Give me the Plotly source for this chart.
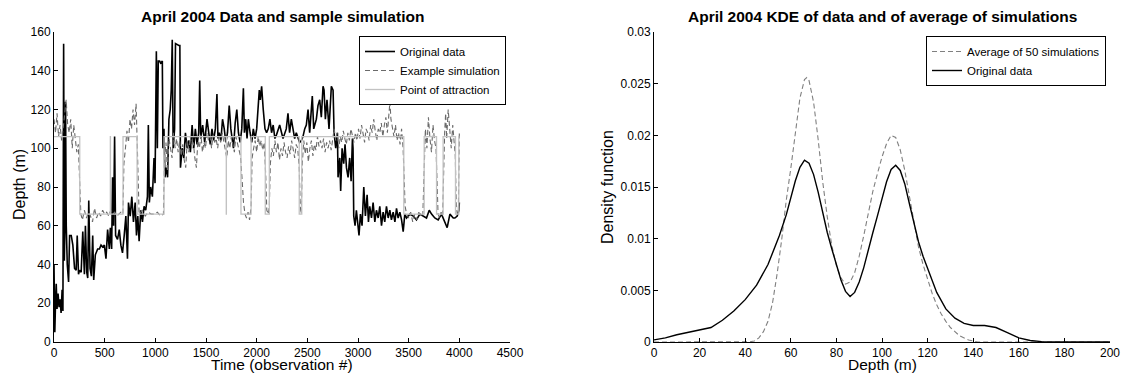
import plotly.graph_objects as go

# ---------------- Left panel: time series ----------------
orig_t = [0, 8, 15, 22, 30, 40, 50, 60, 70, 80, 88, 95, 102, 108, 114, 121, 131, 144, 154, 170,
          186, 203, 219, 229, 242, 252, 268, 284, 300, 310, 323, 333, 343, 356, 369, 382, 392, 408, 431, 448,
          464, 480, 497, 513, 529, 546, 556, 569, 578, 588, 598, 608, 627, 644, 660, 676, 693, 709, 725, 735,
          752, 768, 784, 801, 814, 827, 840, 856, 873, 889, 905, 922, 931, 941, 954, 971, 987, 997, 1010, 1020,
          1029, 1042, 1052, 1069, 1075, 1085, 1095, 1108, 1121, 1134, 1147, 1157, 1167, 1176, 1190, 1199, 1232, 1242, 1248, 1265,
          1281, 1297, 1314, 1330, 1346, 1363, 1379, 1395, 1412, 1428, 1438, 1448, 1467, 1487, 1510, 1526, 1542, 1559, 1575, 1592,
          1608, 1618, 1631, 1647, 1663, 1680, 1696, 1712, 1729, 1745, 1755, 1771, 1788, 1804, 1820, 1837, 1853, 1869, 1879, 1892,
          1905, 1918, 1935, 1951, 1967, 1984, 2000, 2016, 2026, 2036, 2049, 2065, 2082, 2098, 2114, 2131, 2147, 2163, 2180, 2196,
          2227, 2260, 2292, 2309, 2325, 2342, 2358, 2375, 2391, 2424, 2441, 2457, 2474, 2490, 2507, 2523, 2549, 2563, 2589, 2605,
          2622, 2638, 2655, 2665, 2678, 2694, 2714, 2737, 2754, 2764, 2780, 2797, 2803, 2820, 2829, 2843, 2859, 2872, 2886, 2902,
          2918, 2932, 2945, 2951, 2958, 2971, 2984, 3000, 3010, 3024, 3040, 3057, 3073, 3090, 3103, 3116, 3133, 3149, 3166, 3182,
          3199, 3215, 3232, 3248, 3264, 3281, 3298, 3314, 3330, 3347, 3364, 3380, 3396, 3413, 3430, 3446, 3462, 3479, 3512, 3545,
          3577, 3610, 3643, 3676, 3703, 3726, 3758, 3791, 3824, 3857, 3880, 3907, 3940, 3956, 3979, 3996, 4000]
orig_v = [40, 5, 20, 30, 17, 25, 18, 22, 15, 27, 16, 154, 42, 60, 124, 60, 40, 31, 55, 55,
          50, 38, 37, 55, 35, 37, 36, 57, 35, 60, 36, 33, 73, 38, 34, 55, 32, 45, 48, 48,
          50, 49, 50, 43, 58, 48, 59, 48, 85, 60, 106, 55, 53, 58, 50, 46, 55, 65, 43, 72,
          65, 75, 62, 72, 55, 65, 52, 68, 62, 70, 68, 75, 112, 72, 80, 75, 95, 82, 150, 100,
          145, 145, 144, 145, 100, 110, 85, 90, 85, 115, 120, 130, 156, 100, 110, 154, 153, 153, 90, 100,
          95, 108, 100, 104, 98, 112, 100, 110, 102, 108, 135, 105, 112, 103, 115, 108, 102, 110, 104, 110,
          128, 105, 108, 104, 115, 110, 103, 108, 122, 110, 105, 100, 113, 120, 108, 103, 110, 131, 108, 115,
          105, 115, 108, 103, 110, 105, 110, 125, 130, 125, 132, 120, 110, 108, 110, 115, 108, 112, 105, 107,
          112, 105, 110, 118, 108, 115, 110, 105, 108, 103, 104, 106, 110, 112, 120, 108, 127, 110, 115, 122,
          125, 116, 132, 130, 115, 125, 110, 132, 130, 108, 100, 108, 85, 95, 78, 100, 92, 102, 90, 85,
          95, 83, 105, 100, 65, 60, 68, 57, 55, 66, 60, 80, 65, 76, 62, 70, 64, 72, 62, 68,
          64, 70, 60, 67, 62, 70, 64, 68, 63, 67, 62, 69, 64, 67, 63, 57, 66, 64, 66, 65,
          63, 66, 65, 64, 68, 66, 64, 63, 66, 62, 59, 66, 64, 64, 65, 68, 72]

sim_t = [0, 15, 30, 45, 60, 75, 90, 105, 120, 135, 150, 165, 180, 195, 210, 225, 240, 255, 265, 280,
         300, 320, 340, 360, 380, 400, 420, 440, 460, 480, 500, 520, 540, 560, 580, 600, 620, 640, 660, 680,
         690, 705, 720, 735, 750, 765, 780, 795, 810, 820, 830, 840, 870, 900, 930, 960, 990, 1020, 1050, 1080,
         1090, 1105, 1120, 1135, 1150, 1165, 1180, 1195, 1210, 1225, 1240, 1255, 1270, 1285, 1300, 1315, 1330, 1345, 1360, 1375,
         1390, 1405, 1420, 1435, 1450, 1465, 1480, 1495, 1510, 1525, 1540, 1555, 1570, 1585, 1600, 1615, 1630, 1645, 1660, 1675,
         1690, 1705, 1720, 1735, 1750, 1765, 1780, 1795, 1810, 1825, 1840, 1855, 1870, 1885, 1900, 1915, 1930, 1945, 1955, 1970,
         1985, 2000, 2015, 2030, 2045, 2060, 2075, 2090, 2100, 2115, 2125, 2135, 2150, 2165, 2180, 2195, 2210, 2225, 2240, 2255,
         2270, 2285, 2300, 2315, 2330, 2345, 2360, 2375, 2390, 2405, 2420, 2430, 2440, 2450, 2465, 2480, 2495, 2510, 2525, 2540,
         2555, 2570, 2585, 2600, 2615, 2630, 2645, 2660, 2675, 2690, 2705, 2720, 2735, 2750, 2765, 2780, 2795, 2810, 2825, 2840,
         2855, 2870, 2885, 2900, 2915, 2930, 2945, 2960, 2975, 2990, 3005, 3020, 3035, 3050, 3065, 3080, 3095, 3110, 3125, 3140,
         3155, 3170, 3185, 3200, 3215, 3230, 3245, 3260, 3275, 3290, 3305, 3315, 3325, 3340, 3355, 3370, 3385, 3400, 3415, 3430,
         3445, 3455, 3465, 3480, 3500, 3520, 3540, 3560, 3580, 3600, 3620, 3640, 3655, 3665, 3680, 3695, 3710, 3725, 3740, 3755,
         3770, 3780, 3790, 3805, 3820, 3835, 3845, 3855, 3865, 3875, 3890, 3905, 3920, 3935, 3950, 3960, 3970, 3980, 3990, 4000]
sim_v = [115, 108, 118, 106, 112, 104, 110, 118, 125, 112, 108, 115, 100, 112, 104, 98, 102, 80, 66, 63,
         68, 64, 67, 65, 62, 69, 64, 67, 65, 68, 66, 67, 65, 68, 66, 67, 65, 66, 67, 66,
         92, 100, 109, 103, 115, 110, 120, 112, 123, 105, 75, 66, 68, 65, 67, 66, 66, 67, 65, 66,
         95, 103, 88, 105, 100, 95, 108, 100, 105, 98, 104, 96, 102, 94, 90, 104, 98, 106, 100, 103,
         95, 90, 104, 100, 107, 98, 103, 100, 108, 104, 106, 100, 107, 103, 105, 100, 106, 103, 108, 104,
         100, 95, 104, 100, 106, 102, 98, 106, 103, 100, 96, 85, 72, 66, 64, 67, 63, 70, 95, 100,
         104, 98, 106, 101, 104, 99, 103, 85, 68, 66, 70, 92, 100, 96, 104, 98, 103, 94, 100, 96,
         103, 98, 95, 101, 97, 104, 99, 95, 102, 100, 90, 70, 66, 92, 104, 97, 103, 93, 100, 104,
         96, 102, 99, 106, 101, 104, 100, 105, 98, 103, 100, 104, 99, 106, 110, 104, 108, 100, 106, 103,
         109, 105, 102, 108, 104, 110, 106, 103, 108, 104, 110, 105, 112, 107, 103, 110, 108, 104, 112, 108,
         115, 109, 104, 110, 108, 113, 106, 112, 116, 108, 118, 124, 115, 110, 106, 112, 104, 108, 102, 110,
         100, 85, 70, 66, 64, 67, 62, 66, 63, 67, 65, 66, 95, 110, 100, 116, 105, 98, 112, 104,
         100, 80, 66, 64, 67, 65, 95, 108, 118, 105, 120, 110, 100, 112, 104, 96, 70, 66, 67, 108]

attr_t = [0, 254, 556, 557, 681, 820, 1086, 1700, 1701, 1845, 1945, 2085, 2125, 2420, 2445, 3452,
          3653, 3775, 3840, 3962, 3995, 4000]
attr_v = [106, 66, 106, 66, 106, 66, 106, 66, 106, 66, 106, 66, 106, 66, 106, 66,
          106, 66, 106, 66, 106, 106]

# ---------------- Right panel: KDE ----------------
kde_orig_x = [0, 5, 10, 15, 20, 25, 30, 35, 40, 45, 50, 55, 58, 60, 62, 64, 66, 68, 70, 72,
              74, 76, 78, 80, 82, 84, 86, 88, 90, 92, 94, 96, 98, 100, 102, 104, 106, 108, 110, 112,
              114, 116, 118, 120, 124, 128, 132, 136, 140, 145, 150, 155, 160, 165, 170, 180, 200]
kde_orig_y = [0.0002, 0.0004, 0.0007, 0.00095, 0.0012, 0.0014, 0.0021, 0.003, 0.0041, 0.0055,
              0.0075, 0.0103, 0.0123, 0.0139, 0.0156, 0.0169, 0.0176, 0.0173, 0.0162, 0.0145,
              0.0125, 0.0106, 0.009, 0.0075, 0.006, 0.0049, 0.0044, 0.0048, 0.0058, 0.0072,
              0.009, 0.0106, 0.0122, 0.0139, 0.0155, 0.0167, 0.0171, 0.0166, 0.0153, 0.0134,
              0.0114, 0.0097, 0.0083, 0.0071, 0.0048, 0.0032, 0.0023, 0.0018, 0.0016, 0.0016,
              0.0014, 0.0009, 0.0004, 0.00015, 0.00004, 0.0, 0.0]

kde_avg_x = [0, 10, 20, 30, 40, 42, 44, 46, 48, 50, 52, 54, 56, 58, 60, 62, 64, 66, 67, 68,
             70, 72, 74, 76, 78, 80, 82, 84, 86, 88, 90, 92, 94, 96, 98, 100, 102, 104, 106, 108,
             110, 112, 114, 116, 118, 120, 122, 124, 126, 128, 130, 134, 138, 142, 160, 180, 200]
kde_avg_y = [0.0, 0.0, 0.0, 0.0, 0.0, 0.00002, 0.0001, 0.0004, 0.001, 0.002, 0.0038, 0.0066,
             0.0099, 0.0137, 0.0168, 0.0205, 0.0236, 0.0254, 0.0256, 0.0253, 0.0232, 0.0196,
             0.0155, 0.0121, 0.0093, 0.0074, 0.0062, 0.0056, 0.0058, 0.0067, 0.0083, 0.0103,
             0.0125, 0.0146, 0.0163, 0.0179, 0.0192, 0.02, 0.0198, 0.0186, 0.0166, 0.0141,
             0.0115, 0.0092, 0.0075, 0.0061, 0.0047, 0.0036, 0.0027, 0.002, 0.0014, 0.0006,
             0.0002, 0.0, 0.0, 0.0, 0.0]

left_title = "April 2004 Data and sample simulation"
right_title = "April 2004 KDE of data and of average of simulations"
y_ticks_right = [0, 0.005, 0.01, 0.015, 0.02, 0.025, 0.03]
y_ticktext_right = ["0", "0.005", "0.01", "0.015", "0.02", "0.025", "0.03"]

assert len(orig_t) == len(orig_v)
assert len(sim_t) == len(sim_v)
assert len(attr_t) == len(attr_v)
assert len(kde_orig_x) == len(kde_orig_y)
assert len(kde_avg_x) == len(kde_avg_y)

FONT = "Liberation Sans, Arial, Helvetica, sans-serif"
W, H = 1125, 380

fig = go.Figure()
fig.add_trace(go.Scatter(x=orig_t, y=orig_v, mode="lines", name="Original data",
                         line=dict(color="black", width=1.6), xaxis="x", yaxis="y", legend="legend"))
fig.add_trace(go.Scatter(x=sim_t, y=sim_v, mode="lines", name="Example simulation",
                         line=dict(color="#6a6a6a", width=1.1, dash="5px,3px"), xaxis="x", yaxis="y",
                         legend="legend"))
fig.add_trace(go.Scatter(x=attr_t, y=attr_v, mode="lines", name="Point of attraction",
                         line=dict(color="#c2c2c2", width=1.3, shape="hv"), xaxis="x", yaxis="y",
                         legend="legend"))
fig.add_trace(go.Scatter(x=kde_avg_x, y=kde_avg_y, mode="lines", name="Average of 50 simulations",
                         line=dict(color="#808080", width=1.1, dash="5px,3px"), xaxis="x2", yaxis="y2",
                         legend="legend2"))
fig.add_trace(go.Scatter(x=kde_orig_x, y=kde_orig_y, mode="lines", name="Original data",
                         line=dict(color="black", width=1.4), xaxis="x2", yaxis="y2", legend="legend2"))


def px_x(p):
    return p / W


def px_y(p):
    return 1 - p / H


axis_common = dict(showline=True, linecolor="black", linewidth=1, ticks="inside", ticklen=4,
                   tickcolor="black", showgrid=False, zeroline=False, mirror=False,
                   tickfont=dict(family=FONT, size=12, color="black"), automargin=False)

y_dom = [px_y(342), px_y(32)]
fig.update_layout(
    width=W, height=H, margin=dict(l=0, r=0, t=0, b=0),
    paper_bgcolor="white", plot_bgcolor="white",
    font=dict(family=FONT, size=12, color="black"),
    xaxis=dict(domain=[px_x(54), px_x(510)], range=[0, 4500], dtick=500, anchor="y", **axis_common),
    yaxis=dict(domain=y_dom, range=[0, 160], dtick=20, anchor="x", **axis_common),
    xaxis2=dict(domain=[px_x(654), px_x(1110)], range=[0, 200], dtick=20, anchor="y2", **axis_common),
    yaxis2=dict(domain=y_dom, range=[0, 0.03], tickvals=y_ticks_right, ticktext=y_ticktext_right,
                anchor="x2", **axis_common),
    legend=dict(x=px_x(506), y=px_y(36), xanchor="right", yanchor="top", bgcolor="white",
                bordercolor="black", borderwidth=1, font=dict(family=FONT, size=11.5, color="black"),
                tracegroupgap=0),
    legend2=dict(x=px_x(1106), y=px_y(36), xanchor="right", yanchor="top", bgcolor="white",
                 bordercolor="black", borderwidth=1, font=dict(family=FONT, size=11.5, color="black"),
                 tracegroupgap=0),
    showlegend=True,
)

annotations = [
    dict(text="<b>" + left_title + "</b>", x=px_x(282), y=px_y(16), font=dict(size=15.5)),
    dict(text="<b>" + right_title + "</b>", x=px_x(882), y=px_y(16), font=dict(size=15.5)),
    dict(text="Time (observation #)", x=px_x(282), y=px_y(364), font=dict(size=15.5)),
    dict(text="Depth (m)", x=px_x(882), y=px_y(364), font=dict(size=15.5)),
    dict(text="Depth (m)", x=px_x(19), y=px_y(185), textangle=-90, font=dict(size=16)),
    dict(text="Density function", x=px_x(607), y=px_y(187), textangle=-90, font=dict(size=16)),
]
for a in annotations:
    a.update(xref="paper", yref="paper", showarrow=False, xanchor="center", yanchor="middle")
    a["font"].update(family=FONT, color="black")
fig.update_layout(annotations=annotations)

fig.write_html(
    "out.html",
    config={"displayModeBar": False},
    post_script="document.body.style.margin='0';document.body.style.overflow='hidden';",
)
